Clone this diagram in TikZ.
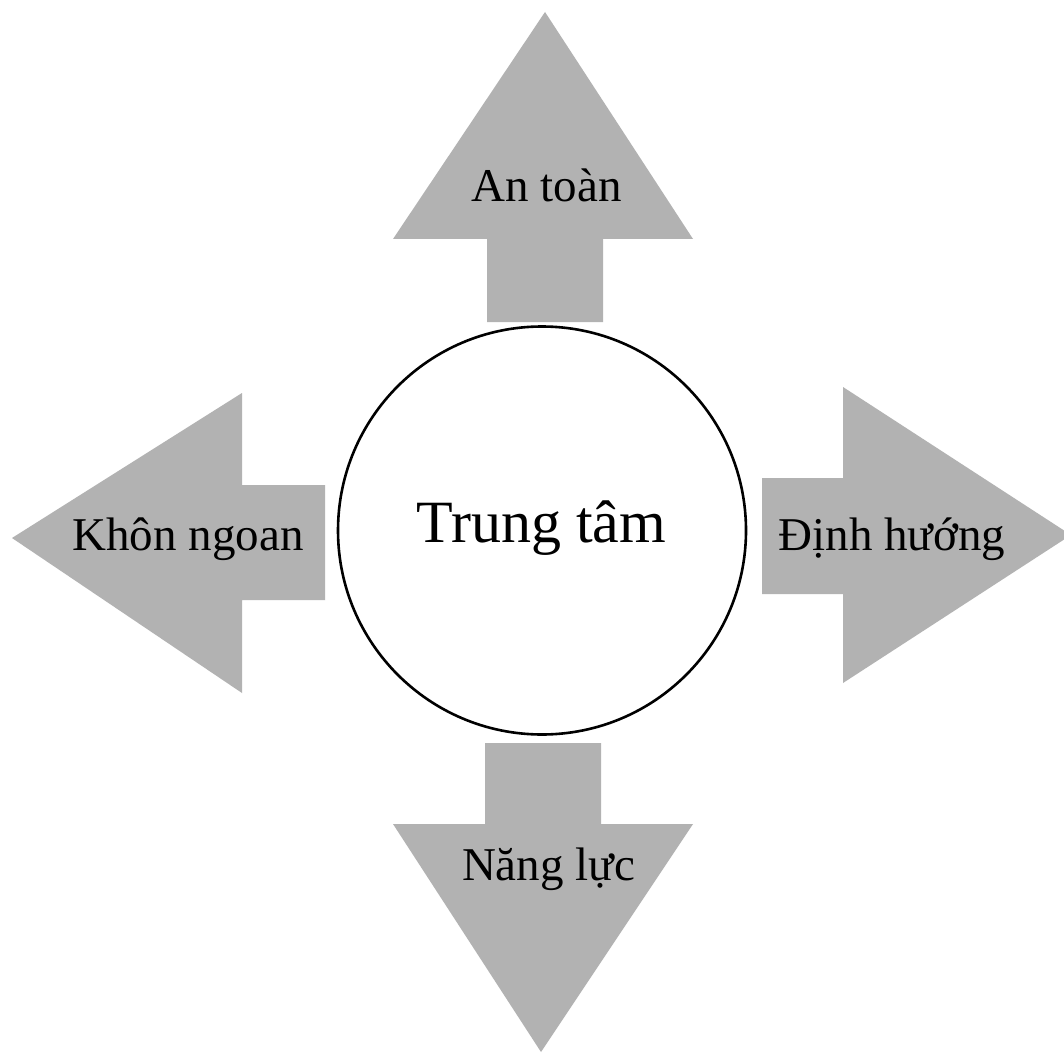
\documentclass[tikz,border=0pt]{standalone}
\usepackage{fontspec}
\setmainfont{Liberation Serif}
\begin{document}
\begin{tikzpicture}[x=1pt,y=-1pt,
  arrowshape/.style={fill=black!30, draw=none},
  lbl/.style={anchor=base, inner sep=0pt, font=\fontsize{47}{50}\selectfont},
  hub/.style={circle, draw=black, line width=2.6pt, fill=white, minimum size=408pt, inner sep=0pt}]
\clip (0,0) rectangle (1064,1056);
\fill[white] (0,0) rectangle (1064,1056);
% up arrow
\fill[arrowshape] (487,322) -- (487,239) -- (393,239) -- (545,12) -- (693,239) -- (603,239) -- (603,322) -- cycle;
% left arrow
\fill[arrowshape] (325,485) -- (242,485) -- (242,393) -- (12,538) -- (242,693) -- (242,600) -- (325,600) -- cycle;
% right arrow
\fill[arrowshape] (762,478) -- (843,478) -- (843,387) -- (1071,535) -- (843,683) -- (843,594) -- (762,594) -- cycle;
% down arrow
\fill[arrowshape] (485,743) -- (485,824) -- (393,824) -- (541,1052) -- (693,824) -- (601,824) -- (601,743) -- cycle;
% centre
\node[hub] (hub) at (542,530.5) {};
\node[anchor=base, inner sep=0pt, font=\fontsize{60}{64}\selectfont] (tt) at (541.5,542) {Trung tâm};
\node[lbl] (up) at (546.5,202) {An toàn};
\node[lbl] (left) at (188,550) {Khôn ngoan};
\node[lbl] (right) at (892,550) {Định hướng};
\node[lbl] (down) at (548.5,880) {Năng lực};
\end{tikzpicture}
\end{document}
